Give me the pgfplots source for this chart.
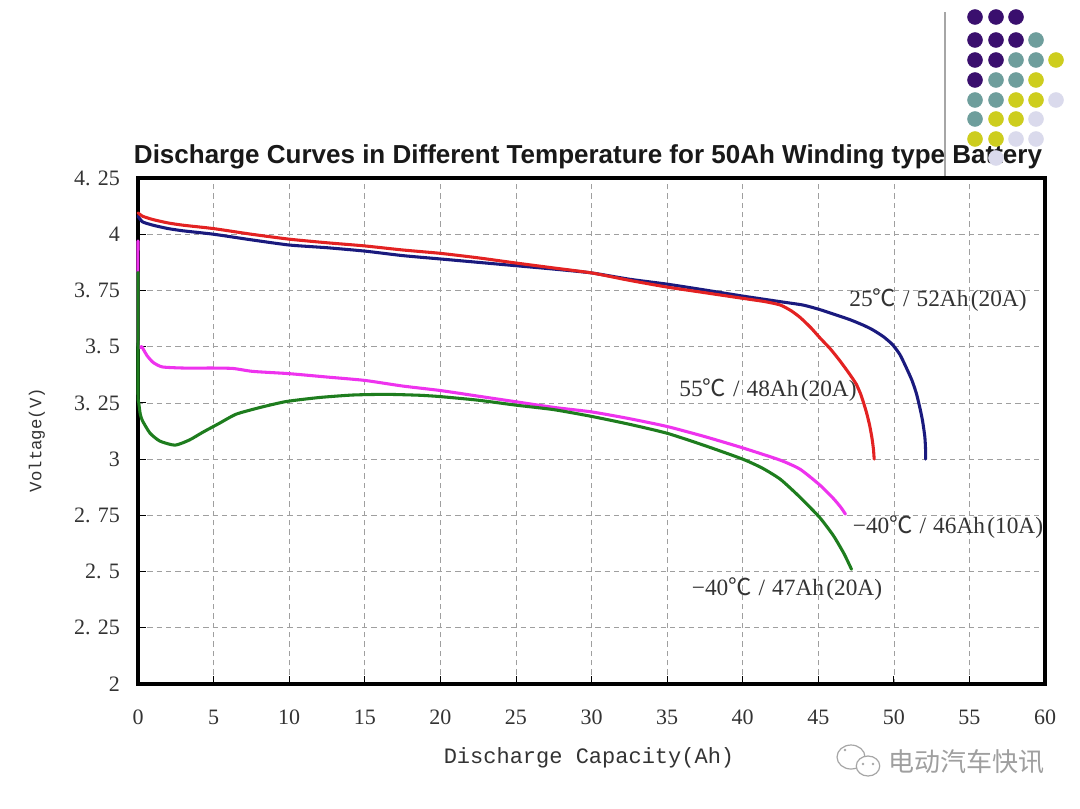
\documentclass[border=0pt]{standalone}
\usepackage{pgfplots}
\pgfplotsset{compat=1.18}
\usepackage{fontspec}
\setmainfont{Liberation Serif}
\newfontfamily\cjk{Noto Sans CJK SC}
\newfontfamily\mono{Liberation Mono}
\newfontfamily\sans{Liberation Sans}
\definecolor{colA}{HTML}{1A1A7E}
\definecolor{colB}{HTML}{E32222}
\definecolor{colC}{HTML}{EE33EE}
\definecolor{colD}{HTML}{1E7D1E}
\definecolor{dP}{HTML}{3A0F6E}
\definecolor{dT}{HTML}{6E9E9C}
\definecolor{dY}{HTML}{CDCD1E}
\definecolor{dL}{HTML}{DADAEC}
\definecolor{txt}{HTML}{333333}
\begin{document}
\begin{tikzpicture}
\fill[white] (0,0) rectangle (810pt,606pt);
\path[use as bounding box] (0,0) rectangle (810pt,606pt);
\begin{axis}[at={(103.5pt,93pt)}, anchor=south west, scale only axis,
  width=680.25pt, height=379.5pt,
  xmin=0, xmax=60, ymin=2, ymax=4.25,
  xtick={0,5,10,15,20,25,30,35,40,45,50,55,60},
  xticklabels={0,5,10,15,20,25,30,35,40,45,50,55,60},
  ytick={2,2.25,2.5,2.75,3,3.25,3.5,3.75,4,4.25},
  yticklabels={2,2. 25,2. 5,2. 75,3,3. 25,3. 5,3. 75,4,4. 25},
  grid=major, major grid style={gray!75, dash pattern=on 4pt off 3pt, line width=0.5pt},
  tick align=inside, xtick pos=left, ytick pos=left,
  major tick length=6pt, tick style={black, line width=0.6pt},
  axis line style={line width=3pt, black},
  ticklabel style={font=\fontsize{16.5}{18}\selectfont, text=txt},
  xticklabel style={yshift=-16pt}, yticklabel style={xshift=-10pt},
  clip=false,
  every axis plot/.append style={line width=2.3pt, line join=round, line cap=round, smooth, tension=0.35}
]
% 25C / 52Ah (20A)
\addplot[colA] coordinates {(0,4.08) (0.3,4.055) (1,4.04) (2,4.025) (3,4.015) (5,4.0) (7.5,3.975) (10,3.952) (12.5,3.94) (15,3.925) (17.5,3.905) (20,3.89) (22.5,3.875) (25,3.86) (27.5,3.845) (30,3.828) (32.5,3.80) (35,3.778) (37.5,3.752) (40,3.725) (42.5,3.70) (44,3.685) (45.1,3.665) (46,3.645) (47.1,3.62) (48,3.595) (48.6,3.575) (49.3,3.545) (49.9,3.51) (50.4,3.465) (50.8,3.41) (51.2,3.35) (51.5,3.29) (51.75,3.22) (51.9,3.17) (52.05,3.10) (52.1,3.04) (52.1,3.0)};
% 55C / 48Ah (20A)
\addplot[colB] coordinates {(0,4.095) (0.3,4.08) (1,4.065) (2,4.05) (3,4.04) (5,4.025) (7.5,4.0) (10,3.978) (12.5,3.962) (15,3.948) (17.5,3.93) (20,3.915) (22.5,3.895) (25,3.872) (27.5,3.85) (30,3.828) (32.5,3.795) (35,3.765) (37.5,3.74) (40,3.715) (41.5,3.70) (42.5,3.685) (43.2,3.66) (43.8,3.63) (44.5,3.585) (45.1,3.54) (45.8,3.49) (46.4,3.44) (47,3.385) (47.5,3.335) (47.8,3.29) (48.0,3.25) (48.2,3.205) (48.4,3.15) (48.55,3.095) (48.65,3.045) (48.7,3.0)};
% -40C / 46Ah (10A)
\addplot[colC] coordinates {(0,3.97) (0,3.52) (0.25,3.50) (0.6,3.46) (1.0,3.43) (1.6,3.41) (3,3.405) (5,3.405) (6.3,3.403) (7.6,3.39) (10,3.38) (12.5,3.365) (15,3.35) (17.5,3.325) (20,3.305) (22.5,3.28) (25,3.255) (27.5,3.23) (30,3.21) (32.5,3.18) (35,3.145) (37.5,3.10) (40,3.05) (42.5,2.995) (43.8,2.955) (45.1,2.885) (46,2.825) (46.5,2.785) (46.8,2.755)};
% -40C / 47Ah (20A)
\addplot[colD] coordinates {(0,3.83) (0,3.30) (0.05,3.25) (0.15,3.20) (0.3,3.17) (0.8,3.115) (1.45,3.08) (2.45,3.062) (3.4,3.085) (4.3,3.12) (5.4,3.16) (6.5,3.20) (8.1,3.23) (9.8,3.256) (12,3.274) (14.2,3.285) (16.4,3.288) (18.6,3.284) (20,3.278) (22.5,3.262) (25,3.24) (27.5,3.22) (30,3.19) (32.5,3.155) (35,3.115) (37.5,3.06) (40,3.0) (41.3,2.96) (42.5,2.91) (43.8,2.83) (45.1,2.74) (46,2.66) (46.7,2.58) (47.2,2.51)};
\end{axis}
% overlay in pixel coordinates
\begin{axis}[at={(0,0)}, anchor=south west, scale only axis,
  width=810pt, height=606pt, xmin=0, xmax=1080, ymin=0, ymax=808,
  y dir=reverse, hide axis, clip=false]
\addplot[gray!70, line width=0.9pt] coordinates {(945,12) (945,176)};
\addplot[only marks, mark=*, mark size=5.6pt, color=dP] coordinates {(975,17) (996,17) (1016,17) (975,40) (996,40) (1016,40) (975,60) (996,60) (975,80)};
\addplot[only marks, mark=*, mark size=5.6pt, color=dT] coordinates {(1036,40) (1016,60) (1036,60) (996,80) (1016,80) (975,100) (996,100) (975,119)};
\addplot[only marks, mark=*, mark size=5.6pt, color=dY] coordinates {(1056,60) (1036,80) (1016,100) (1036,100) (996,119) (1016,119) (975,139) (996,139)};
\addplot[only marks, mark=*, mark size=5.6pt, color=dL] coordinates {(1056,100) (1036,119) (1016,139) (1036,139) (996,158)};
\node[font=\sans\bfseries\fontsize{19.5}{22}\selectfont, text=black!90] at (axis cs:588,157) {Discharge Curves in Different Temperature for 50Ah Winding type Battery};
\node[font=\mono\fontsize{16.5}{18}\selectfont, text=txt] at (axis cs:589,758) {Discharge Capacity(Ah)};
\node[font=\mono\fontsize{13}{15}\selectfont, text=txt, rotate=90] at (axis cs:37,440) {Voltage(V)};
\node[font=\fontsize{17.5}{20}\selectfont, text=txt] at (axis cs:938,300) {25{\cjk ℃}\hspace{.3em}/\hspace{.3em}52Ah\hspace{.1em}(20A)};
\node[font=\fontsize{17.5}{20}\selectfont, text=txt] at (axis cs:768,390) {55{\cjk ℃}\hspace{.3em}/\hspace{.3em}48Ah\hspace{.1em}(20A)};
\node[font=\fontsize{17.5}{20}\selectfont, text=txt] at (axis cs:948,527) {−40{\cjk ℃}\hspace{.3em}/\hspace{.3em}46Ah\hspace{.1em}(10A)};
\node[font=\fontsize{17.5}{20}\selectfont, text=txt] at (axis cs:787,589) {−40{\cjk ℃}\hspace{.3em}/\hspace{.3em}47Ah\hspace{.1em}(20A)};
\draw[gray!70, line width=0.9pt, fill=white] (axis cs:851,757) ellipse [x radius=10.5pt, y radius=9pt];
\draw[gray!70, line width=0.9pt, fill=white] (axis cs:868,766) ellipse [x radius=8.8pt, y radius=7.5pt];
\fill[gray!70] (axis cs:863,764) circle[radius=1.1pt] (axis cs:873,764) circle[radius=1.1pt] (axis cs:845,750) circle[radius=1.1pt];
\node[font=\cjk\fontsize{19.5}{22}\selectfont, text=gray!75] at (axis cs:966,762) {电动汽车快讯};
\end{axis}
\end{tikzpicture}
\end{document}
